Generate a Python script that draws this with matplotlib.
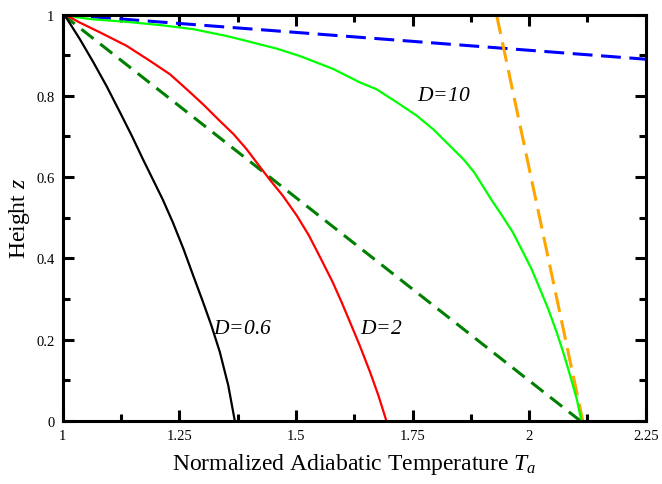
import matplotlib
matplotlib.use("Agg")
from matplotlib import pyplot as plt
from matplotlib.ticker import MultipleLocator, FuncFormatter

plt.rcParams['font.family'] = ['Liberation Serif', 'DejaVu Serif']
plt.rcParams['mathtext.fontset'] = 'custom'
plt.rcParams['mathtext.rm'] = 'Liberation Serif'
plt.rcParams['mathtext.it'] = 'Liberation Serif:italic'

# Temperature T and height z for each curve
t_d06 = [1.0, 1.005, 1.037, 1.066, 1.094, 1.123, 1.148, 1.172, 1.193, 1.214, 1.236,
         1.259, 1.280, 1.301, 1.319, 1.337, 1.355, 1.369]
z_d06 = [1.0, 0.997, 0.939, 0.882, 0.824, 0.759, 0.702, 0.644, 0.595, 0.546, 0.489,
         0.423, 0.357, 0.292, 0.234, 0.169, 0.087, 0.0]

t_d2 = [1.0, 1.009, 1.037, 1.080, 1.137, 1.187, 1.230, 1.266, 1.301, 1.337, 1.366,
        1.394, 1.421, 1.443, 1.472, 1.502, 1.528, 1.554, 1.579, 1.598, 1.616, 1.637,
        1.659, 1.677, 1.694]
z_d2 = [1.0, 0.997, 0.980, 0.956, 0.923, 0.886, 0.853, 0.816, 0.779, 0.738, 0.706,
        0.669, 0.628, 0.595, 0.554, 0.505, 0.456, 0.398, 0.341, 0.292, 0.243, 0.185,
        0.120, 0.062, 0.0]

t_d10 = [1.0, 1.005, 1.066, 1.137, 1.209, 1.280, 1.352, 1.394, 1.459, 1.508, 1.580,
         1.637, 1.673, 1.723, 1.759, 1.794, 1.823, 1.859, 1.882, 1.905, 1.918, 1.942,
         1.965, 1.987, 2.005, 2.023, 2.041, 2.059, 2.073, 2.088, 2.102, 2.112]
z_d10 = [1.0, 0.997, 0.988, 0.982, 0.974, 0.964, 0.947, 0.935, 0.916, 0.898, 0.866,
         0.833, 0.816, 0.779, 0.751, 0.718, 0.685, 0.644, 0.612, 0.570, 0.546, 0.505,
         0.464, 0.415, 0.374, 0.325, 0.275, 0.218, 0.169, 0.111, 0.054, 0.0]

# straight reference lines
t_green_dash = [1.0, 2.11]
z_green_dash = [1.0, 0.0]
t_blue_dash = [1.0, 2.25]
z_blue_dash = [1.0, 0.89]
t_orange_dash = [1.930, 2.115]
z_orange_dash = [1.0, 0.0]

labels = [("$D$=0.6", 1.322, 0.228), ("$D$=2", 1.637, 0.228), ("$D$=10", 1.76, 0.80)]

fig = plt.figure(figsize=(6.62, 4.85), dpi=100)
ax = fig.add_axes([0.0947, 0.130, 0.8808, 0.838])

ax.plot(t_blue_dash, z_blue_dash, color='#0000ff', lw=2.2, dashes=(6.5, 2.8))
ax.plot(t_orange_dash, z_orange_dash, color='#ffa500', lw=2.2, dashes=(6.5, 2.8))
ax.plot(t_green_dash, z_green_dash, color='#008000', lw=2.2, dashes=(5.0, 2.8))
ax.plot(t_d10, z_d10, color='#00ff00', lw=1.6)
ax.plot(t_d2, z_d2, color='#ff0000', lw=1.6)
ax.plot(t_d06, z_d06, color='black', lw=1.6)

for txt, x, y in labels:
    ax.text(x, y, txt, fontsize=15.5, style='italic', va='center', ha='left')

ax.set_xlim(1, 2.25)
ax.set_ylim(0, 1)
ax.xaxis.set_major_locator(MultipleLocator(0.25))
ax.xaxis.set_minor_locator(MultipleLocator(0.125))
ax.yaxis.set_major_locator(MultipleLocator(0.2))
ax.yaxis.set_minor_locator(MultipleLocator(0.1))
fmt = FuncFormatter(lambda v, p: f"{v:g}")
ax.xaxis.set_major_formatter(fmt)
ax.yaxis.set_major_formatter(fmt)

ax.tick_params(which='both', direction='in', top=True, right=True, labelsize=10.5)
ax.tick_params(which='major', length=8, width=2.2, pad=6)
ax.tick_params(which='minor', length=5, width=2.2)
for s in ax.spines.values():
    s.set_linewidth(2.2)

ax.set_xlabel("Normalized Adiabatic Temperature $T_a$", fontsize=17, labelpad=6)
ax.set_ylabel("Height $z$", fontsize=17, labelpad=3)

plt.savefig("out.png", dpi=100)
